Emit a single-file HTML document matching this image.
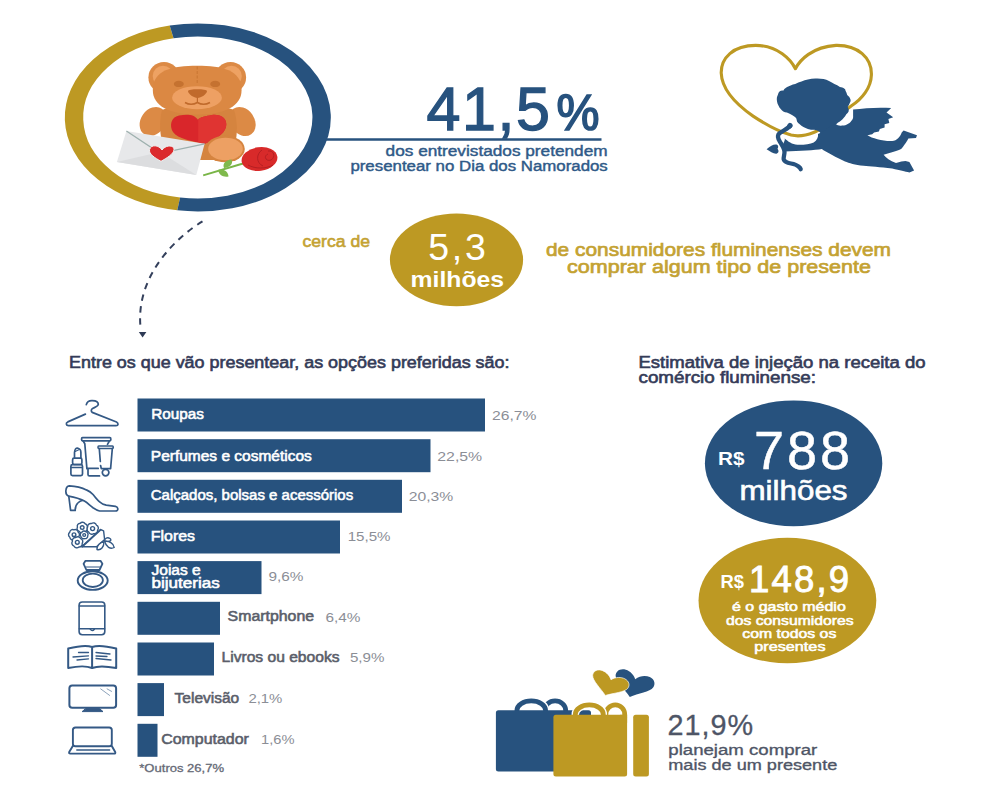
<!DOCTYPE html>
<html><head><meta charset="utf-8">
<style>
html,body{margin:0;padding:0;background:#fff;width:985px;height:787px;overflow:hidden}
svg{display:block}
text{font-family:"Liberation Sans",sans-serif}
</style></head>
<body>
<svg width="985" height="787" viewBox="0 0 985 787">
<!-- RING -->
<g transform="translate(197.8,117.4) scale(1.415,1)" fill="none" stroke-width="13">
  <path d="M -18.5,-85.52 A 87.5 87.5 0 0 0 -13.5,86.45" stroke="#bd9923"/>
  <path d="M -18.5,-85.52 A 87.5 87.5 0 1 1 -13.5,86.45" stroke="#27527e"/>
</g>
<line x1="326" y1="139.5" x2="601.5" y2="139.5" stroke="#27527e" stroke-width="2.3"/>
<!-- dashed arc -->
<path d="M 202.5,221.4 C 179.8,235.1 134.8,273.6 140.6,328" fill="none" stroke="#34405c" stroke-width="2" stroke-dasharray="6.5,5.5"/>
<path d="M 138.8,332 L 146.4,332 L 142.6,337.5 Z" fill="#2e3a55"/>
<!-- ellipses -->
<ellipse cx="456.5" cy="259.8" rx="66.6" ry="46.4" fill="#bd9923"/>
<ellipse cx="793.6" cy="463.3" rx="88.7" ry="62.9" fill="#27527e"/>
<ellipse cx="787.4" cy="600.5" rx="88.9" ry="62.7" fill="#bd9923"/>
<!-- BARS -->
<g fill="#27527e">
  <rect x="137.5" y="398.5" width="347.5" height="33"/>
  <rect x="137.5" y="439.2" width="293" height="33"/>
  <rect x="137.5" y="479.8" width="264.5" height="33"/>
  <rect x="137.5" y="520.5" width="202.5" height="33"/>
  <rect x="137.5" y="561.1" width="124" height="33"/>
  <rect x="137.5" y="601.8" width="82.5" height="33"/>
  <rect x="137.5" y="642.5" width="76.5" height="33"/>
  <rect x="137.5" y="683.1" width="26.5" height="33"/>
  <rect x="137.5" y="723.8" width="20" height="33"/>
</g>
<!-- BEAR -->
<g id="bear">
  <!-- arms -->
  <ellipse cx="153" cy="121.5" rx="15.5" ry="12.2" fill="#dc8a45" transform="rotate(-55 153 121.5)"/>
  <ellipse cx="242.3" cy="121.5" rx="15.5" ry="12.2" fill="#dc8a45" transform="rotate(55 242.3 121.5)"/>
  <!-- torso -->
  <path d="M 162,110 C 158,125 160,150 172,160 L 226,160 C 238,150 239,125 234,110 C 222,104 174,104 162,110 Z" fill="#d5843f"/>
  <!-- ears -->
  <circle cx="164" cy="77.5" r="15.6" fill="#dc8a45"/>
  <circle cx="230.5" cy="77.5" r="15.6" fill="#dc8a45"/>
  <circle cx="163" cy="76" r="10.3" fill="#eea263"/>
  <circle cx="231.5" cy="76" r="10.3" fill="#eea263"/>
  <!-- head -->
  <path d="M 197.2,65.8 C 222,65.8 241.6,70 241.6,90 C 241.6,106 225,114.6 197.2,114.6 C 169.4,114.6 152.8,106 152.8,90 C 152.8,70 172.4,65.8 197.2,65.8 Z" fill="#db8843"/>
  <line x1="197.2" y1="66.5" x2="197.2" y2="83" stroke="#c4712f" stroke-width="0.8" stroke-dasharray="3,1.5"/>
  <!-- muzzle -->
  <ellipse cx="197" cy="97.7" rx="24.9" ry="11.5" fill="#eea063"/>
  <!-- eyes -->
  <ellipse cx="178.8" cy="83.9" rx="5" ry="3.2" fill="#c57230"/>
  <ellipse cx="215.2" cy="83.9" rx="5" ry="3.2" fill="#c57230"/>
  <!-- nose -->
  <path d="M 188,91 C 188,88.5 207,88.5 207,91 C 207,94 201,98 197.5,98 C 194,98 188,94 188,91 Z" fill="#c06a2c"/>
  <path d="M 185,102.5 Q 191,106 197.4,102.5 Q 203.5,106 210,102.5" fill="none" stroke="#c06a2c" stroke-width="1.6"/>
  <line x1="197.4" y1="97" x2="197.4" y2="102.5" stroke="#c06a2c" stroke-width="1.2"/>
  <!-- chest heart -->
  <defs><clipPath id="hr"><rect x="198.2" y="110" width="40" height="40"/></clipPath>
  <path id="chh" d="M 198,119.7 C 194,114 187,114 179,115.5 C 171,117 169,126 173,132 C 178,139 192,141 204,144 C 214,140 224,135 226,127 C 228,118 220,114 212,115 C 206,116 200,117 198,119.7 Z"/></defs>
  <use href="#chh" fill="#d9262b"/>
  <use href="#chh" fill="#e03432" clip-path="url(#hr)"/>
  <!-- foot -->
  <ellipse cx="225.2" cy="149" rx="19.6" ry="13.3" fill="#d5843f"/>
  <ellipse cx="225.5" cy="149" rx="17.3" ry="11.2" fill="#eda063"/>
  <!-- envelope -->
  <path d="M 126.4,130.9 L 204.6,143.8 L 196.3,174.9 L 116.9,162 Z" fill="#e7e8ea"/>
  <path d="M 116.9,162 L 160,152 L 196.3,174.9 Z" fill="#dcdddf"/>
  <path d="M 126.4,130.9 L 160,153.3 L 204.6,143.8" fill="none" stroke="#9db0ae" stroke-width="1.2"/>
  <!-- envelope heart -->
  <path d="M 162,150 C 159,145 151,144 149.6,149.5 C 148.5,154 155,158 161,161.3 C 166,158.5 174,154 174,149.5 C 174,145 166,144.5 162,150 Z" fill="#db2a2d" stroke="#eef3f3" stroke-width="1"/>
  <!-- stem + leaves -->
  <path d="M 203.2,175.4 L 243,163.5" stroke="#79b547" stroke-width="2"/>
  <path d="M 224,168 C 222,163.5 226,160 231.5,159.5 C 233.5,164 230,167.5 224,168 Z" fill="#7fb94c"/>
  <path d="M 218,170 C 223,168.5 228,171 228.5,176.5 C 223,177.5 219,175 218,170 Z" fill="#7fb94c"/>
  <!-- rose -->
  <ellipse cx="259.5" cy="159" rx="18" ry="11.8" fill="#d82a2a" transform="rotate(-8 259.5 159)"/>
  <path d="M 268,151 C 274,150 276,157 271,160 C 266,162 263,156 268,154 M 262,150 C 256,154 256,163 263,166 M 248,165 C 255,169 266,169 273,165" fill="none" stroke="#b51f22" stroke-width="1"/>
</g>
<!-- HEART + CUPID -->
<path d="M 795.4,68.7 C 800,60 812,47 836,45.4 C 858,45 872,58 871.4,75 C 871,88 862,99 851.5,105.8 C 838,116 825,128 813.6,132.5 C 805,136 797,136.5 791.1,135.1 C 780,132 765,124 753.1,116.1 C 740,107 722,92 721.2,73 C 721,58 733,45.4 755.7,45.4 C 778,45.4 791,60 795.4,68.7 Z" fill="none" stroke="#bd9923" stroke-width="3.1" stroke-linejoin="round"/>
<g fill="#27527e">
  <!-- head -->
  <path d="M 777,101.5 C 776.5,98.5 777,96.5 777.8,95.1 C 778.3,93 779,91.8 780.1,91 C 781.2,90.3 782.5,90.2 783.2,90.8 C 783.8,89.5 784.8,88.5 786,87.8 C 787.5,86.6 789,86 790.6,85.5 C 792.2,84.6 793.7,84.2 795.2,84.1 C 797.3,82.8 799.4,81.9 801.5,81.4 C 803.6,80.5 805.7,79.9 807.9,79.6 C 810.6,78.8 813.4,78.4 816.2,78.5 C 818.7,78.4 821.1,78.6 823.5,79.1 C 825.5,79.5 827.3,80.1 829,80.9 C 831,81.8 832.8,82.8 834.4,84.1 C 836.3,85 838.2,85.9 839.9,86.9 C 841.5,87.1 843.2,87.6 844.5,88.7 C 845.3,89.3 845.6,90 845.4,90.5 C 846.3,92 846.9,93.5 847.2,95.1 C 848.6,96.2 849.9,97.6 850.4,99.2 C 850.8,100.3 850.6,101.4 850,102.4 C 849.4,104 848.6,105.5 847.7,107 C 848.6,108.4 849,110 848.6,111.5 C 848.1,112.6 847.3,113.5 846.3,114.3 C 845.6,115.7 844.7,116.9 843.6,118 C 842.8,119 841.9,119.9 840.8,120.7 C 840,121.4 839.1,122 838.1,122.5 C 837.2,123.3 836.3,124.1 835.4,124.8 L 826,131 L 820.7,133.5 C 819.8,131.5 817,130 814.3,129.8 C 812,129.7 809.8,129.5 807.9,128.9 C 806.3,128.4 804.8,127.8 803.4,127.1 C 802,126.3 800.8,125.4 799.7,124.3 C 798.6,123.5 797.6,122.6 797,121.6 C 796.8,120.3 796.6,119 796.1,117.9 C 795,116.8 793.7,115.9 792.4,115.2 C 790.6,114.2 788.8,113.2 786.9,112.5 C 785.6,112.4 784.4,112 783.3,111.5 C 782.3,110.7 781.3,109.8 780.5,108.8 C 779.7,108 779.1,107.1 778.7,106.1 C 777.8,104.6 777.2,103.1 777,101.5 Z"/>
  <!-- body + wing + legs -->
  <path d="M 818,134 C 824,132 830,126 835,123.8 C 837,125 839,125.8 840.7,125.7 C 843,125.7 845,125.5 846.4,124.8 C 849,123.5 850.5,122.5 851.2,121 C 853,119 853.3,117.5 853.1,116.2 L 853.1,109.5 C 865,108 880,107 891.2,108.1 L 886.5,112.4 L 893.2,117.2 L 888.4,119.1 L 889.3,122.9 L 884.6,124.3 L 884.6,127.6 L 879.8,129.1 L 878.9,131.5 L 874.1,132.4 L 872.2,134.3 L 867.4,135.3 C 872,138.5 884,141.5 892.2,141 C 897,140.5 900,137 901.7,132.4 L 903.6,130.5 L 917,135.3 L 916,138.1 L 908.4,138.6 C 906,143 903,147 901.7,148.6 C 898,151 890,153 883.6,154.8 C 886,158 890,161 896,162.9 C 900,162 903,161 905.5,161 L 909.4,162 L 914.1,170.5 L 909.4,172.5 C 905,171.5 900,170.5 892.2,168.6 C 880,167 870,166.5 863.6,165.8 C 855,165 849,163 845,161.5 C 838,158.5 832,155 826.7,152.1 C 824,150.5 822.5,149.5 821.9,148.9 C 815,150.3 800,150.5 784.5,151.5 L 782.5,145.5 C 784,142 785.5,139.5 784.5,138.3 C 788,141.5 792,144.5 797.5,144.8 C 804,145 810,144 813.7,142.4 C 817,140.5 818.5,137 818,134 Z"/>
  <!-- arrow heart -->
  <path d="M 766.6,149.3 C 770,146.5 773,144.5 775.5,144.5 C 778,144.5 779,146.5 777.5,148.8 C 779,150.5 779,153 776.5,153.7 C 773.5,154 770,151.5 766.6,149.3 Z"/>
</g>
<!-- bow -->
<path d="M 790.3,125.9 C 788,128 784,130.5 780.8,132.3 C 778.5,133.5 777.8,135 778,137 C 778.2,139.5 779.5,141 781,143.5 C 783,146.5 784.5,149 784.5,152.1 C 784.5,155 783.3,157.5 783.7,159.4 C 784.5,162 788,163 791,163.5 C 794,164 797,165 798.5,166.5 C 799.8,167.5 800.5,168.5 800.7,169.2" fill="none" stroke="#27527e" stroke-width="4.3" stroke-linecap="round"/>
<ellipse cx="789.8" cy="125.8" rx="2.6" ry="3" fill="#27527e" transform="rotate(30 789.8 125.8)"/>
<!-- ICONS -->
<g fill="none" stroke="#345985" stroke-width="1.7" stroke-linecap="round" stroke-linejoin="round">
  <!-- hanger -->
  <path d="M 86.3,404.6 C 87,401.5 90,400.5 92.3,400.6 C 95.5,400.7 98.3,402 98.3,404.3 C 98.3,406.5 94,407.5 92.3,408.7 C 91,409.8 91,411.5 92.2,412.4 L 116.5,422 C 118.7,423.2 118.5,425.7 116,425.7 L 68.5,425.7 C 66,425.7 65.5,423 67.8,421.9 L 85.4,414.1"/>
  <!-- cosmetics: lipstick -->
  <path d="M 74.5,458.2 L 74.5,452.5 C 74.8,449.5 76,448 77.5,448 C 79.5,448.3 80.9,450.5 80.9,452.5 L 80.9,458.2"/>
  <path d="M 75.2,451.5 L 79.8,449.3" stroke-width="1.1"/>
  <rect x="72.6" y="458.2" width="9.3" height="6.3" rx="1.5"/>
  <rect x="70.9" y="464.6" width="11.6" height="11" rx="1.6"/>
  <line x1="71.3" y1="467.5" x2="82" y2="467.5"/>
  <!-- big tube -->
  <path d="M 82.5,437.6 L 109.9,437.6 C 111.2,437.6 111.2,440.8 109.9,440.8 L 82.5,440.8 C 81.2,440.8 81.2,437.6 82.5,437.6 Z"/>
  <path d="M 83.2,441 L 84.8,443.7 L 86.9,468.6 M 109.4,441 L 107.5,444.3"/>
  <path d="M 87.2,468.4 L 98.2,468.4 M 88,468.6 L 88,474.5 C 88,475.5 88.5,475.9 89.5,475.9 L 99.5,475.9"/>
  <!-- small tube -->
  <path d="M 98.8,446 L 112.4,446 C 113.5,446 113.5,448.5 112.4,448.5 L 98.8,448.5 C 97.8,448.5 97.8,446 98.8,446 Z"/>
  <path d="M 99.3,448.7 L 100.3,461.5 M 100.6,465.5 L 101.3,468.6 L 110.6,468.6 L 112.3,448.7"/>
  <circle cx="105.6" cy="472.6" r="3.3"/>
  <!-- shoe -->
  <path d="M 69.2,485.9 C 76,486.3 82,487.7 86.4,489.9 C 89.5,491.2 91.3,492.5 93,494.5 C 95.5,497.5 97.5,500.3 99.6,501.8 C 101.5,503.5 104,504.6 106.2,505.1 L 115.5,506.4 C 118.3,507 119,511 115.4,511 L 99.6,511 C 97.5,510.5 95.5,509.3 93,507.7 C 90,505.5 87.5,502.8 84.4,501.1 C 79.5,498.5 73,497 68.6,496.2 C 66.5,495.4 65.6,493.5 65.9,490.5 C 66.2,487.6 67.5,486 69.2,485.9 Z"/>
  <path d="M 68.8,496.4 L 70.6,510.4 L 75.2,510.4 C 75.2,507.5 75.7,505 77.8,503 C 79.5,501.3 81,500.6 82.4,500.5"/>
  <!-- ring -->
  <ellipse cx="92.7" cy="580.6" rx="15" ry="9.3" stroke-width="1.9"/>
  <ellipse cx="92.8" cy="580.3" rx="10.1" ry="6.7" stroke-width="1.8"/>
  <path d="M 85.5,560.8 L 100.5,560.8 L 102.4,563.8 L 99.5,570 L 86.4,570 L 83.6,563.8 Z" stroke-width="1.8"/>
  <line x1="86" y1="567" x2="100" y2="567" stroke-width="1.2"/>
  <!-- tablet -->
  <rect x="79.1" y="602" width="25.7" height="32.7" rx="3.2" stroke-width="1.6"/>
  <line x1="79.3" y1="606" x2="104.6" y2="606" stroke-width="1.4"/>
  <line x1="79.3" y1="628.7" x2="104.6" y2="628.7" stroke-width="1.4"/>
  <path d="M 90.2,629.2 Q 92.2,632 94.4,629.2" stroke-width="1.4"/>
  <!-- book -->
  <path d="M 92.1,647 C 88,645.5 80.3,645.5 68.2,648.5 L 68.2,668 C 78,666 86,665.5 92.1,668 C 98,665.5 106,666 116.2,668 L 116.2,648.5 C 104.6,645.5 96,645.5 92.1,647 Z M 92.1,647.3 L 92.1,667.8" stroke-width="2"/>
  <path d="M 78.5,652.5 L 88.5,652.5 M 73,657 L 88.5,655.8 M 77,660 L 88.5,658.8 M 96,652.5 L 110,654 M 96,656 L 107,656.5 M 96,658.5 L 111,660" stroke-width="1.3"/>
  <!-- tv -->
  <rect x="69.4" y="685.5" width="46.7" height="22.3" rx="2.8" stroke-width="2"/>
  <path d="M 100.7,688.9 L 109.6,695.4 M 107.1,688.9 L 111.6,691.4" stroke-width="0.8" stroke="#6f8aa8"/>
  <path d="M 86,708.6 L 99.5,708.6 L 103,711.6 L 82.5,711.6 Z" fill="#345985" stroke-width="1"/>
  <!-- laptop -->
  <rect x="72.9" y="727.5" width="38.9" height="18.8" rx="2.6" stroke-width="1.9"/>
  <path d="M 72.8,746 L 69.2,752 C 68.8,753 69.3,753.6 70.3,753.6 L 114.2,753.6 C 115.2,753.6 115.6,753 115.2,752 L 111.8,746" stroke-width="1.9"/>
  <line x1="76.8" y1="750" x2="109.6" y2="750" stroke-width="1.5"/>
</g>
<!-- bouquet -->
<g stroke="#345985" stroke-width="1.4" fill="#fff" stroke-linejoin="round">
  <path d="M 81.5,546.8 L 100.4,529.5 L 103.6,530.8 L 104.6,539.5 L 96.5,546.8 Z"/>
  <path d="M 97.57,530.14 A 3.22 3.22 0 0 1 93.75,533.67 A 3.22 3.22 0 0 1 88.79,532.13 A 3.22 3.22 0 0 1 87.63,527.06 A 3.22 3.22 0 0 1 91.45,523.53 A 3.22 3.22 0 0 1 96.41,525.07 A 3.22 3.22 0 0 1 97.57,530.14 Z"/>
  <path d="M 86.98,528.08 A 2.98 2.98 0 0 1 84.17,531.98 A 2.98 2.98 0 0 1 79.40,531.50 A 2.98 2.98 0 0 1 77.42,527.12 A 2.98 2.98 0 0 1 80.23,523.22 A 2.98 2.98 0 0 1 85.00,523.70 A 2.98 2.98 0 0 1 86.98,528.08 Z"/>
  <path d="M 78.30,537.05 A 3.04 3.04 0 0 1 74.12,539.60 A 3.04 3.04 0 0 1 69.82,537.25 A 3.04 3.04 0 0 1 69.70,532.35 A 3.04 3.04 0 0 1 73.88,529.80 A 3.04 3.04 0 0 1 78.18,532.15 A 3.04 3.04 0 0 1 78.30,537.05 Z"/>
  <path d="M 87.73,535.72 A 2.62 2.62 0 0 1 84.61,538.58 A 2.62 2.62 0 0 1 80.93,536.50 A 2.62 2.62 0 0 1 81.77,532.35 A 2.62 2.62 0 0 1 85.97,531.87 A 2.62 2.62 0 0 1 87.73,535.72 Z"/>
  <path d="M 82.20,543.29 A 3.10 3.10 0 0 1 78.89,547.04 A 3.10 3.10 0 0 1 73.99,546.05 A 3.10 3.10 0 0 1 72.40,541.31 A 3.10 3.10 0 0 1 75.71,537.56 A 3.10 3.10 0 0 1 80.61,538.55 A 3.10 3.10 0 0 1 82.20,543.29 Z"/>
  <circle cx="92.6" cy="528.6" r="1.98"/>
  <circle cx="82.2" cy="527.6" r="1.82"/>
  <circle cx="74" cy="534.7" r="1.86"/>
  <circle cx="84.2" cy="535" r="1.37"/>
  <circle cx="77.3" cy="542.3" r="1.90"/>
  <path d="M 81.8,547.2 L 100.6,530" stroke-width="1.6"/>
  <path d="M 104.6,541 C 104.5,538 107.5,537 110,538.5 C 112,540 110.5,542.5 104.6,541 Z"/>
  <path d="M 104.8,541.5 C 109,541 113.5,543 114.2,547.5 C 110.5,549.5 106,547 104.8,541.5 Z"/>
  <path d="M 104,541.8 C 100,542.5 96.5,545.5 97,549.5 C 101,550.5 104,547 104,541.8 Z"/>
</g>
<!-- BAGS -->
<defs>
  <path id="hrt" d="M 0,0 C -3,-5 -8,-6.8 -11.5,-6.3 C -16,-5.5 -18,-1.5 -17,2.5 C -15.5,8 -6,13 0,18.5 C 6,13 15.5,8 17,2.5 C 18,-1.5 16,-5.5 11.5,-6.3 C 8,-6.8 3,-5 0,0 Z"/>
</defs>
<use href="#hrt" transform="translate(635.2,679.2) rotate(17) scale(1.16,1.0)" fill="#27527e"/>
<use href="#hrt" transform="translate(611,679.8) rotate(20) scale(1.1,0.9)" fill="#bd9923" stroke="#fff" stroke-width="0.6"/>
<g fill="none" stroke-width="4.8">
  <path d="M 544.5,713 L 544.5,710.5 A 10.6 9.6 0 0 1 565.7,710.5 L 565.7,713" stroke="#27527e"/>
  <path d="M 516.9,713 L 516.9,710.5 A 14.35 9.6 0 0 1 545.6,710.5 L 545.6,713" stroke="#fff" stroke-width="7.5"/>
  <path d="M 516.9,713 L 516.9,710.5 A 14.35 9.6 0 0 1 545.6,710.5 L 545.6,713" stroke="#27527e"/>
</g>
<rect x="495.9" y="710.2" width="95.1" height="61.4" rx="2.5" fill="#27527e"/>
<g fill="none" stroke-width="4.8">
  <path d="M 605.9,717 L 605.9,714.4 A 9.4 9.55 0 0 1 624.7,714.4 L 624.7,717" stroke="#bd9923"/>
  <path d="M 575.3,717 L 575.3,714.4 A 14 9.55 0 0 1 603.3,714.4 L 603.3,717" stroke="#fff" stroke-width="7.5"/>
  <path d="M 575.3,717 L 575.3,714.4 A 14 9.55 0 0 1 603.3,714.4 L 603.3,717" stroke="#bd9923"/>
</g>
<rect x="553.4" y="714.8" width="73.7" height="61.7" rx="2.5" fill="#bd9923"/>
<rect x="620" y="714.8" width="7.1" height="8" fill="#bd9923"/>
<rect x="633.2" y="714.8" width="15.7" height="61.7" rx="2.5" fill="#bd9923"/>

<text x="426.5" y="130.4" font-size="61" fill="#27527e" stroke="#27527e" stroke-width="1.3" textLength="123.5" lengthAdjust="spacing">41,5</text>
<text x="556.5" y="129.7" font-size="50" fill="#27527e" stroke="#27527e" stroke-width="1.6" textLength="43" lengthAdjust="spacingAndGlyphs">%</text>
<text x="385.6" y="156.3" font-size="15.5" fill="#2f5a88" stroke="#2f5a88" stroke-width="0.45" textLength="222" lengthAdjust="spacingAndGlyphs">dos entrevistados pretendem</text>
<text x="350.4" y="170.6" font-size="15.5" fill="#2f5a88" stroke="#2f5a88" stroke-width="0.45" textLength="257.4" lengthAdjust="spacingAndGlyphs">presentear no Dia dos Namorados</text>
<text x="302.5" y="246.5" font-size="17" fill="#c4a232" stroke="#c4a232" stroke-width="0.6" textLength="67.5" lengthAdjust="spacingAndGlyphs">cerca de</text>
<text x="428.3" y="259.6" font-size="37.5" fill="#fff" textLength="57.5" lengthAdjust="spacing">5,3</text>
<text x="410.6" y="286.8" font-size="22" fill="#fff" font-weight="bold" textLength="93.5" lengthAdjust="spacingAndGlyphs">milhões</text>
<text x="546" y="256.1" font-size="19" fill="#c4a232" stroke="#c4a232" stroke-width="0.7" textLength="345" lengthAdjust="spacingAndGlyphs">de consumidores fluminenses devem</text>
<text x="567" y="273.2" font-size="19" fill="#c4a232" stroke="#c4a232" stroke-width="0.7" textLength="304" lengthAdjust="spacingAndGlyphs">comprar algum tipo de presente</text>
<text x="69" y="367.6" font-size="16" fill="#343b58" stroke="#343b58" stroke-width="0.6" textLength="440.5" lengthAdjust="spacingAndGlyphs">Entre os que vão presentear, as opções preferidas são:</text>
<text x="638.5" y="367.5" font-size="16" fill="#343b58" stroke="#343b58" stroke-width="0.6" textLength="287" lengthAdjust="spacingAndGlyphs">Estimativa de injeção na receita do</text>
<text x="638.5" y="383.2" font-size="16" fill="#343b58" stroke="#343b58" stroke-width="0.6" textLength="177.5" lengthAdjust="spacingAndGlyphs">comércio fluminense:</text>
<text x="151.2" y="418.8" font-size="14" fill="#fff" stroke="#fff" stroke-width="0.55" textLength="52.7" lengthAdjust="spacingAndGlyphs">Roupas</text>
<text x="150.79999999999998" y="460.8" font-size="14" fill="#fff" stroke="#fff" stroke-width="0.55" textLength="161.0" lengthAdjust="spacingAndGlyphs">Perfumes e cosméticos</text>
<text x="150.79999999999998" y="499.9" font-size="14" fill="#fff" stroke="#fff" stroke-width="0.55" textLength="202.39999999999998" lengthAdjust="spacingAndGlyphs">Calçados, bolsas e acessórios</text>
<text x="150.79999999999998" y="540.8" font-size="14" fill="#fff" stroke="#fff" stroke-width="0.55" textLength="44.2" lengthAdjust="spacingAndGlyphs">Flores</text>
<text x="151.5" y="575.3" font-size="14" fill="#fff" stroke="#fff" stroke-width="0.55" textLength="49.2" lengthAdjust="spacingAndGlyphs">Joias e</text>
<text x="151.5" y="587.9" font-size="14" fill="#fff" stroke="#fff" stroke-width="0.55" textLength="68.2" lengthAdjust="spacingAndGlyphs">bijuterias</text>
<text x="227.6" y="621" font-size="14" fill="#5a5e6a" stroke="#5a5e6a" stroke-width="0.55" textLength="86.5" lengthAdjust="spacingAndGlyphs">Smartphone</text>
<text x="221.5" y="662.3" font-size="14" fill="#5a5e6a" stroke="#5a5e6a" stroke-width="0.55" textLength="118.0" lengthAdjust="spacingAndGlyphs">Livros ou ebooks</text>
<text x="174.6" y="702.9" font-size="14" fill="#5a5e6a" stroke="#5a5e6a" stroke-width="0.55" textLength="64.6" lengthAdjust="spacingAndGlyphs">Televisão</text>
<text x="161.2" y="744" font-size="14" fill="#5a5e6a" stroke="#5a5e6a" stroke-width="0.55" textLength="87.7" lengthAdjust="spacingAndGlyphs">Computador</text>
<text x="492.0" y="419.5" font-size="12.4" fill="#8b8e96" textLength="44.4" lengthAdjust="spacingAndGlyphs">26,7%</text>
<text x="437.29999999999995" y="460.5" font-size="12.4" fill="#8b8e96" textLength="44.9" lengthAdjust="spacingAndGlyphs">22,5%</text>
<text x="408.7" y="500.5" font-size="12.4" fill="#8b8e96" textLength="44.5" lengthAdjust="spacingAndGlyphs">20,3%</text>
<text x="347.7" y="541" font-size="12.4" fill="#8b8e96" textLength="42.8" lengthAdjust="spacingAndGlyphs">15,5%</text>
<text x="268.4" y="581.4" font-size="12.4" fill="#8b8e96" textLength="35" lengthAdjust="spacingAndGlyphs">9,6%</text>
<text x="325.4" y="621.5" font-size="12.4" fill="#8b8e96" textLength="35" lengthAdjust="spacingAndGlyphs">6,4%</text>
<text x="349.9" y="662.3" font-size="12.4" fill="#8b8e96" textLength="34.5" lengthAdjust="spacingAndGlyphs">5,9%</text>
<text x="248.4" y="702.9" font-size="12.4" fill="#8b8e96" textLength="34" lengthAdjust="spacingAndGlyphs">2,1%</text>
<text x="261.09999999999997" y="744" font-size="12.4" fill="#8b8e96" textLength="33.5" lengthAdjust="spacingAndGlyphs">1,6%</text>
<text x="139.3" y="771.7" font-size="11" fill="#666a76" stroke="#666a76" stroke-width="0.3" textLength="84.8" lengthAdjust="spacingAndGlyphs">*Outros 26,7%</text>
<text x="718" y="464.5" font-size="18.5" fill="#fff" font-weight="bold" textLength="26.5" lengthAdjust="spacingAndGlyphs">R$</text>
<text x="754" y="469.2" font-size="54" fill="#fff" stroke="#fff" stroke-width="0.5" textLength="96" lengthAdjust="spacing">788</text>
<text x="739.5" y="499.6" font-size="27" fill="#fff" stroke="#fff" stroke-width="0.6" textLength="108" lengthAdjust="spacingAndGlyphs">milhões</text>
<text x="720.6" y="588" font-size="18" fill="#fff" font-weight="bold" textLength="23.5" lengthAdjust="spacingAndGlyphs">R$</text>
<text x="749" y="591.6" font-size="36.5" fill="#fff" stroke="#fff" stroke-width="0.9" textLength="100" lengthAdjust="spacing">148,9</text>
<text x="732.0" y="610.8" font-size="12.8" fill="#fff" stroke="#fff" stroke-width="0.55" textLength="113.79999999999991" lengthAdjust="spacingAndGlyphs">é o gasto médio</text>
<text x="726.0999999999999" y="624.8" font-size="12.8" fill="#fff" stroke="#fff" stroke-width="0.55" textLength="127.40000000000009" lengthAdjust="spacingAndGlyphs">dos consumidores</text>
<text x="742.3" y="638" font-size="12.8" fill="#fff" stroke="#fff" stroke-width="0.55" textLength="94" lengthAdjust="spacingAndGlyphs">com todos os</text>
<text x="754.3" y="651.3" font-size="12.8" fill="#fff" stroke="#fff" stroke-width="0.55" textLength="71.20000000000005" lengthAdjust="spacingAndGlyphs">presentes</text>
<text x="667.5" y="734.9" font-size="28.8" fill="#4e5566" stroke="#4e5566" stroke-width="0.3" textLength="85.5" lengthAdjust="spacing">21,9%</text>
<text x="668.3" y="754.7" font-size="15.5" fill="#4e5566" stroke="#4e5566" stroke-width="0.35" textLength="149" lengthAdjust="spacingAndGlyphs">planejam comprar</text>
<text x="668.3" y="769.9" font-size="15.5" fill="#4e5566" stroke="#4e5566" stroke-width="0.35" textLength="169" lengthAdjust="spacingAndGlyphs">mais de um presente</text>
</svg>
</body></html>
